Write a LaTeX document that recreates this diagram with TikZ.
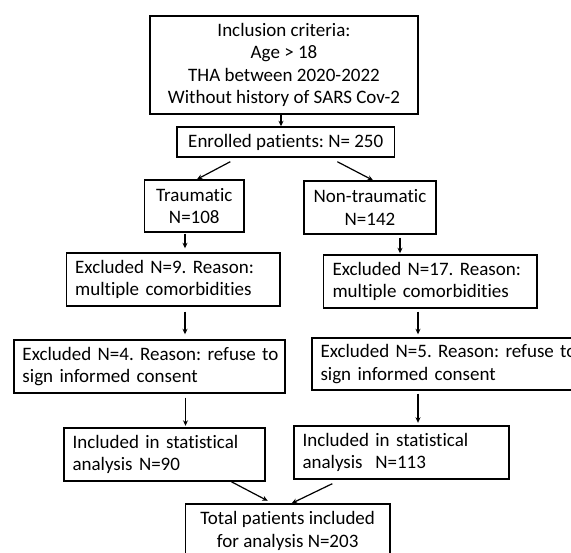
\documentclass[tikz,border=0pt]{standalone}
\usepackage{fontspec}
\setmainfont[Ligatures=NoCommon]{Carlito}
\usetikzlibrary{arrows.meta,calc}
\begin{document}
\frenchspacing
\begin{tikzpicture}[x=1pt,y=-1pt,
  box/.style={draw=black,line width=1.4pt,inner sep=0pt,font=\fontsize{19}{22.5}\selectfont},
  cbox/.style={box,align=center},
  lbox/.style={box,align=left,inner xsep=8.5pt},
  arr/.style={line width=1.2pt,-{Stealth[length=5.5pt,width=5pt]}}]
\path[use as bounding box] (0,0) rectangle (571,553);
\clip (0,0) rectangle (571,553);
\node[cbox,minimum width=268pt,minimum height=98pt] (top) at (284,65)
  {Inclusion criteria:\\Age > 18\\THA between 2020-2022\\Without history of SARS Cov-2};
\node[cbox,minimum width=217.5pt,minimum height=30pt] (enr) at (285.75,142) {Enrolled patients: N= 250};
\node[cbox,minimum width=99.4pt,minimum height=52pt] (trau) at (194.3,206) {Traumatic\\N=108};
\node[cbox,minimum width=132pt,minimum height=53pt] (ntrau) at (370,207.5) {Non-traumatic\\N=142};
\node[lbox,text width=196.3pt,minimum height=53pt] (ex9) at (173.35,279.5) {\mbox{Excluded N=9. Reason:}\\\mbox{multiple comorbidities}};
\node[lbox,inner xsep=9pt,text width=195.5pt,minimum height=53pt] (ex17) at (430.25,281.5) {\mbox{Excluded N=17. Reason:}\\\mbox{multiple comorbidities}};
\node[lbox,text width=254pt,minimum height=53pt] (ex4) at (149.5,366.5) {\mbox{Excluded N=4. Reason: refuse to}\\\mbox{sign informed consent}};
\node[lbox,text width=266pt,minimum height=52pt] (ex5) at (453.5,364) {\mbox{Excluded N=5. Reason: refuse to}\\\mbox{sign informed consent}};
\node[lbox,text width=184pt,minimum height=53pt] (in90) at (164.5,454.5) {\mbox{Included in statistical}\\\mbox{analysis N=90}};
\node[lbox,text width=198pt,minimum height=53pt] (in113) at (401.5,452.5) {\mbox{Included in statistical}\\\mbox{analysis~~N=113}};
\node[cbox,minimum width=204.6pt,minimum height=54pt] (tot) at (287.7,531) {Total patients included\\for analysis N=203};
% connectors
\draw[arr] ($(top.south)+(-3,0)$) -- ($(enr.north)+(-4.75,0)$);
\draw[arr] ($(enr.south west)+(54,4)$) -- ($(trau.north)+(2.7,0)$);
\draw[arr] ($(enr.south west)+(161,4)$) -- ($(ntrau.north)+(3,0)$);
\draw[arr] ($(trau.south)+(-9.3,1)$) -- ($(ex9.north)+(11.65,-4)$);
\draw[arr] ($(ntrau.south)+(30,3)$) -- ($(ex17.north)+(-30.25,-1)$);
\draw[arr] ($(ex9.south)+(11.65,5)$) -- ($(ex4.north)+(35.5,-5)$);
\draw[arr] ($(ex17.south)+(-12.25,3)$) -- ($(ex5.north)+(-35.5,-3)$);
\draw[arr] ($(ex4.south)+(36,4)$) -- ($(in90.north)+(21,-1.5)$);
\draw[arr] ($(ex5.south)+(-35.5,3)$) -- ($(in113.north)+(16.5,-2.5)$);
\draw[arr] ($(in90.south west)+(168,0)$) -- ($(tot.north west)+(83,-2.5)$);
\draw[arr] ($(in113.south west)+(39,4)$) -- ($(tot.north west)+(107,0)$);
\end{tikzpicture}
\end{document}
